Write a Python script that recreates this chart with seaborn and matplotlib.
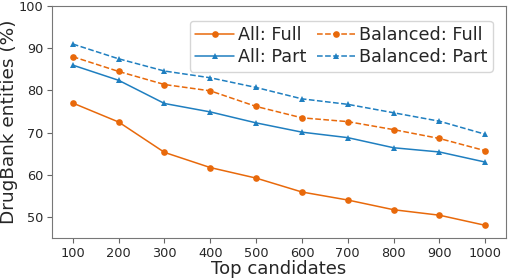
import matplotlib
matplotlib.use("Agg")
import matplotlib.pyplot as plt
import seaborn as sns
import pandas as pd

# values
top_candidates = [100, 200, 300, 400, 500, 600, 700, 800, 900, 1000]
all_full = [77.0, 72.5, 65.3, 61.7, 59.2, 55.9, 54.0, 51.7, 50.4, 48.0]
all_part = [86.0, 82.4, 76.9, 74.9, 72.3, 70.1, 68.8, 66.4, 65.4, 63.0]
balanced_full = [88.0, 84.5, 81.4, 79.9, 76.2, 73.5, 72.6, 70.7, 68.6, 65.7]
balanced_part = [91.0, 87.5, 84.6, 83.0, 80.7, 78.0, 76.7, 74.7, 72.7, 69.6]

ORANGE = "#e8690b"
BLUE = "#1f7fc0"

series = [
    ("All: Full", all_full, ORANGE, "o", "-"),
    ("All: Part", all_part, BLUE, "^", "-"),
    ("Balanced: Full", balanced_full, ORANGE, "o", "--"),
    ("Balanced: Part", balanced_part, BLUE, "^", "--"),
]

sns.set_style("ticks")
plt.rcParams['font.family'] = ['DejaVu Sans']
plt.rcParams['font.sans-serif'] = ['DejaVu Sans']

fig = plt.figure(figsize=(5.12, 2.78), dpi=100)
ax = fig.add_axes([0.102, 0.144, 0.886, 0.834])

for name, vals, col, mk, ls in series:
    df = pd.DataFrame({"x": top_candidates, "y": vals})
    sns.lineplot(data=df, x="x", y="y", ax=ax, color=col, marker=mk,
                 linestyle=ls, markersize=4.8, markeredgewidth=0,
                 linewidth=1.1, label=name)

ax.set_ylim(45, 100)
ax.set_xticks(top_candidates)
ax.set_yticks([50, 60, 70, 80, 90, 100])
ax.tick_params(labelsize=9.3, length=3.5, color="#666666", pad=3)
ax.set_xlabel("Top candidates", fontsize=13, labelpad=0)
ax.set_ylabel("DrugBank entities (%)", fontsize=13.3, labelpad=0.5)
for sp in ax.spines.values():
    sp.set_color("#777777")
    sp.set_visible(True)

ax.legend(ncol=2, fontsize=12.7, loc="upper right", handlelength=2.2,
          columnspacing=0.6, handletextpad=0.2, borderpad=0.3,
          labelspacing=0.25, bbox_to_anchor=(0.99, 0.975))

fig.savefig("out.png", dpi=100)
